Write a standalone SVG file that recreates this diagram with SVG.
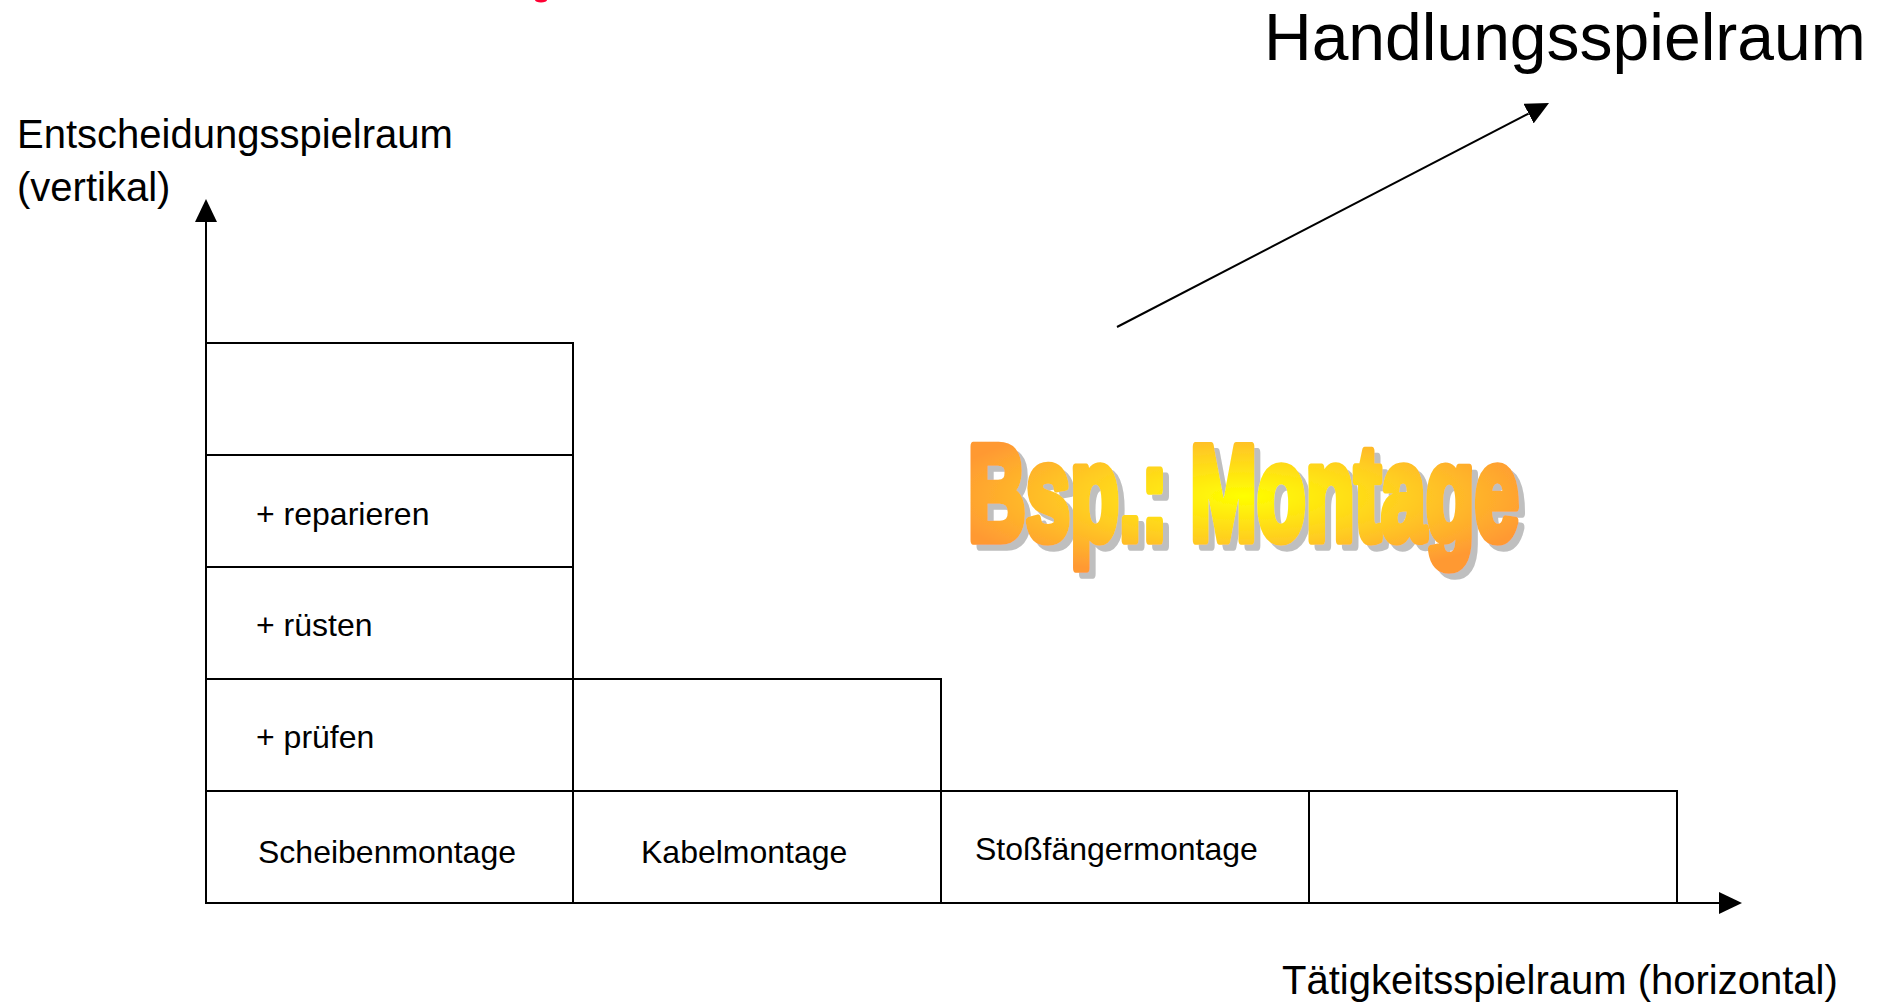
<svg xmlns="http://www.w3.org/2000/svg" width="1892" height="1006" viewBox="0 0 1892 1006">
  <style>
    .cell { fill: #ffffff; stroke: #000000; stroke-width: 2; }
    .lbl { font-family: "Liberation Sans", Arial, sans-serif; font-size: 32px; fill: #000000; }
    .axis { font-family: "Liberation Sans", Arial, sans-serif; font-size: 40px; fill: #000000; }
    .conn { stroke: #000000; stroke-width: 2; fill: none; }
    .wa { font-family: "Liberation Sans", Arial, sans-serif; font-weight: bold; font-size: 100px; stroke-width: 7; stroke-linejoin: round; }
  </style>
  <defs>
    <marker id="arrow" markerUnits="userSpaceOnUse" markerWidth="23" markerHeight="22" refX="0" refY="11" orient="auto" viewBox="0 0 23 22">
      <path d="M0,0 L23,11 L0,22 z" fill="#000000"/>
    </marker>
    <radialGradient id="waGrad" cx="50%" cy="52%" r="55%" gradientUnits="objectBoundingBox">
      <stop offset="0" stop-color="#FFFF00"/>
      <stop offset="0.55" stop-color="#FFCC22"/>
      <stop offset="1" stop-color="#FF9933"/>
    </radialGradient>
    <filter id="waShadow" x="-5%" y="-20%" width="115%" height="150%">
      <feFlood flood-color="#BFBFBF" result="gray"/>
      <feComposite in="gray" in2="SourceAlpha" operator="in" result="shape"/>
      <feOffset in="shape" dx="6" dy="6" result="shadow"/>
      <feMerge>
        <feMergeNode in="shadow"/>
        <feMergeNode in="SourceGraphic"/>
      </feMerge>
    </filter>
  </defs>
  <rect width="1892" height="1006" fill="#ffffff"/>

  <!-- tiny red fragment at top edge -->
  <ellipse cx="541" cy="0" rx="6" ry="2.5" fill="#FF0033"/>

  <!-- axis labels -->
  <g id="label-vertical">
    <text class="axis" x="17" y="148">Entscheidungsspielraum</text>
    <text class="axis" x="17" y="201">(vertikal)</text>
  </g>
  <g id="label-horizontal">
    <text class="axis" x="1282" y="994">Tätigkeitsspielraum (horizontal)</text>
  </g>
  <g id="label-handlung">
    <text font-family="'Liberation Sans', Arial, sans-serif" font-size="66" x="1264" y="60">Handlungsspielraum</text>
  </g>

  <!-- WordArt -->
  <g id="wordart" filter="url(#waShadow)">
    <text class="wa" transform="translate(968,540) scale(0.80,1.36)" fill="url(#waGrad)" stroke="url(#waGrad)">Bsp.: Montage</text>
  </g>

  <!-- column 1 -->
  <g id="c1-r5"><rect class="cell" x="206" y="343" width="367" height="112"/></g>
  <g id="c1-r4"><rect class="cell" x="206" y="455" width="367" height="112"/><text class="lbl" x="256" y="525">+ reparieren</text></g>
  <g id="c1-r3"><rect class="cell" x="206" y="567" width="367" height="112"/><text class="lbl" x="256" y="636">+ rüsten</text></g>
  <g id="c1-r2"><rect class="cell" x="206" y="679" width="367" height="112"/><text class="lbl" x="256" y="748">+ prüfen</text></g>
  <g id="c1-r1"><rect class="cell" x="206" y="791" width="367" height="112"/><text class="lbl" x="258" y="863">Scheibenmontage</text></g>
  <!-- column 2 -->
  <g id="c2-r2"><rect class="cell" x="573" y="679" width="368" height="112"/></g>
  <g id="c2-r1"><rect class="cell" x="573" y="791" width="368" height="112"/><text class="lbl" x="641" y="863">Kabelmontage</text></g>
  <!-- column 3 -->
  <g id="c3-r1"><rect class="cell" x="941" y="791" width="368" height="112"/><text class="lbl" x="975" y="860">Stoßfängermontage</text></g>
  <!-- column 4 -->
  <g id="c4-r1"><rect class="cell" x="1309" y="791" width="368" height="112"/></g>

  <!-- connectors -->
  <g id="connectors">
    <line class="conn" x1="206" y1="903" x2="206" y2="222" marker-end="url(#arrow)"/>
    <line class="conn" x1="205" y1="903" x2="1719" y2="903" stroke-width="3" marker-end="url(#arrow)"/>
    <line class="conn" x1="1117" y1="327" x2="1528.6" y2="113.6" marker-end="url(#arrow)"/>
  </g>
</svg>
